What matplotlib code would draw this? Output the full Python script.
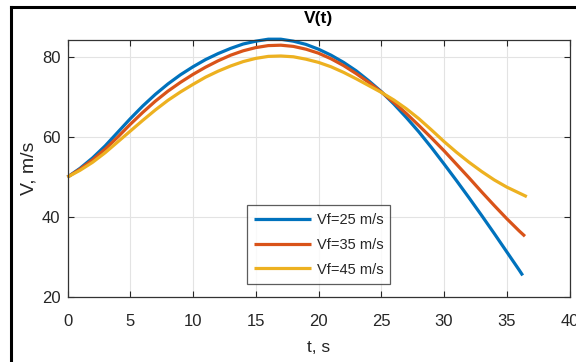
import matplotlib
matplotlib.use("Agg")
import matplotlib.pyplot as plt
from matplotlib.lines import Line2D

plt.rcParams['font.family'] = ['Liberation Sans', 'DejaVu Sans']

t_blue = [0, 1, 2, 3, 4, 5, 6, 7, 8, 9, 10, 11, 12, 13, 14, 15, 16, 17, 18, 19, 20,
          21, 22, 23, 24, 25, 26, 27, 28, 29, 30, 31, 32, 33, 34, 35, 36, 36.27]
v_blue = [50, 52.2, 54.8, 57.8, 61.2, 64.6, 67.8, 70.7, 73.3, 75.6, 77.6, 79.4, 80.9,
          82.2, 83.3, 84.0, 84.5, 84.5, 84.0, 83.2, 82.0, 80.5, 78.7, 76.6, 74.1, 71.4,
          68.3, 64.9, 61.3, 57.4, 53.3, 49.1, 44.8, 40.4, 35.9, 31.3, 26.7, 25.4]

t_orange = [0, 1, 2, 3, 4, 5, 6, 7, 8, 9, 10, 11, 12, 13, 14, 15, 16, 17, 18, 19, 20,
            21, 22, 23, 24, 25, 26, 27, 28, 29, 30, 31, 32, 33, 34, 35, 36, 36.45]
v_orange = [50, 52.0, 54.3, 57.0, 60.0, 63.2, 66.2, 69.0, 71.5, 73.7, 75.7, 77.5, 79.1,
            80.5, 81.6, 82.4, 82.9, 83.0, 82.7, 82.0, 81.0, 79.6, 77.9, 75.9, 73.7, 71.3,
            68.7, 65.9, 62.9, 59.8, 56.6, 53.2, 49.8, 46.3, 42.9, 39.6, 36.5, 35.2]

t_yellow = [0, 1, 2, 3, 4, 5, 6, 7, 8, 9, 10, 11, 12, 13, 14, 15, 16, 17, 18, 19, 20,
            21, 22, 23, 24, 25, 26, 27, 28, 29, 30, 31, 32, 33, 34, 35, 36, 36.6]
v_yellow = [50, 51.7, 53.7, 56.1, 58.8, 61.5, 64.2, 66.8, 69.2, 71.3, 73.2, 75.0, 76.5,
            77.8, 78.9, 79.7, 80.2, 80.3, 80.1, 79.5, 78.7, 77.6, 76.2, 74.6, 72.9, 71.2,
            69.3, 67.1, 64.6, 61.8, 58.9, 56.2, 53.7, 51.4, 49.3, 47.5, 46.0, 45.1]

labels = ['Vf=25 m/s', 'Vf=35 m/s', 'Vf=45 m/s']
colors = ['#0072BD', '#D95319', '#EDB120']
x_ticks = [0, 5, 10, 15, 20, 25, 30, 35, 40]
y_ticks = [20, 40, 60, 80]

fig = plt.figure(figsize=(5.76, 3.62), dpi=100)
ax = fig.add_axes([67.5 / 576, 1 - 297 / 362, (569.5 - 67.5) / 576, (297 - 40) / 362])

for tt, vv, lab, c in zip([t_blue, t_orange, t_yellow],
                          [v_blue, v_orange, v_yellow], labels, colors):
    ax.plot(tt, vv, color=c, lw=2.3, label=lab, clip_on=False, solid_capstyle='butt')

ax.set_xlim(0, 40)
ax.set_ylim(20, 84.3)
ax.set_xticks(x_ticks)
ax.set_yticks(y_ticks)
txtc = '#262626'
ax.tick_params(direction='in', top=True, right=True, length=4, width=0.8,
               colors=txtc, labelsize=12)
ax.tick_params(axis='x', pad=12)
ax.tick_params(axis='y', pad=5)
ax.grid(True, color='#e3e3e3', lw=0.8)
ax.set_axisbelow(True)
for s in ax.spines.values():
    s.set_color('#333333')
    s.set_linewidth(0.9)

ax.set_title('V(t)', fontweight='bold', fontsize=12.5, color='black', pad=12)
ax.set_xlabel('t, s', fontsize=12.5, color=txtc, labelpad=8.5)
ax.set_ylabel('V, m/s', fontsize=14, color=txtc, labelpad=3)

leg = ax.legend(loc='lower center', bbox_to_anchor=(0.5, 0.0), fontsize=10.5,
                handlelength=3.9, frameon=True, fancybox=False, borderpad=0.5,
                labelspacing=0.75, handletextpad=0.4, borderaxespad=0.9)
leg.get_frame().set_edgecolor('#333333')
leg.get_frame().set_linewidth(0.9)
for txt in leg.get_texts():
    txt.set_color(txtc)

# screenshot frame
fig.add_artist(Line2D([11 / 576, 11 / 576], [0, 1 - 7 / 362], color='black', lw=2.2,
                      transform=fig.transFigure))
fig.add_artist(Line2D([11 / 576, 1], [1 - 7 / 362, 1 - 7 / 362], color='black', lw=2.2,
                      transform=fig.transFigure))

fig.savefig('out.png', dpi=100)
